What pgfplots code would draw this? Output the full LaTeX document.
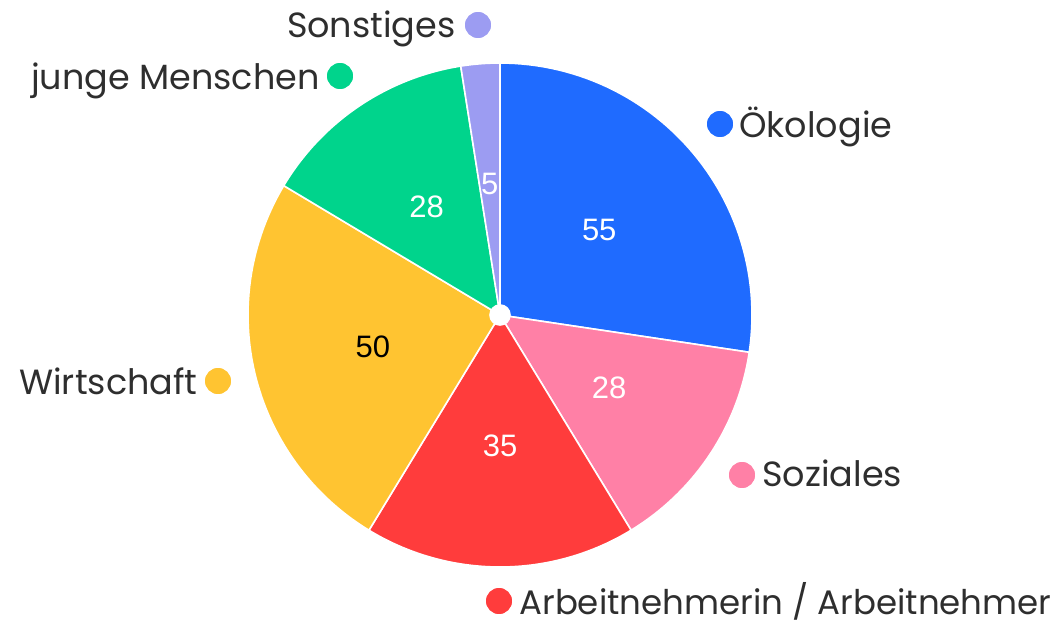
\documentclass[border=0pt]{standalone}
\usepackage{pgfplots}
\pgfplotsset{compat=1.18}
\usepackage{fontspec}
\setmainfont{Poppins}
\newfontfamily\numfont{Liberation Sans}
\definecolor{cOek}{HTML}{1F6BFF}
\definecolor{cSoz}{HTML}{FF80A6}
\definecolor{cArb}{HTML}{FF3C3C}
\definecolor{cWir}{HTML}{FFC431}
\definecolor{cJun}{HTML}{00D48C}
\definecolor{cSon}{HTML}{9C9CF2}
\definecolor{txt}{HTML}{2E2E2E}
% values (clockwise from top)
\def\vA{55}\def\vB{28}\def\vC{35}\def\vD{50}\def\vE{28}\def\vF{5}
\pgfmathsetmacro\tot{\vA+\vB+\vC+\vD+\vE+\vF}
\pgfmathsetmacro\aA{90}
\pgfmathsetmacro\aB{\aA-\vA/\tot*360}
\pgfmathsetmacro\aC{\aB-\vB/\tot*360}
\pgfmathsetmacro\aD{\aC-\vC/\tot*360}
\pgfmathsetmacro\aE{\aD-\vD/\tot*360}
\pgfmathsetmacro\aF{\aE-\vE/\tot*360}
\pgfmathsetmacro\aG{\aF-\vF/\tot*360}
\pgfmathsetmacro\mA{(\aA+\aB)/2}
\pgfmathsetmacro\mB{(\aB+\aC)/2}
\pgfmathsetmacro\mC{(\aC+\aD)/2}
\pgfmathsetmacro\mD{(\aD+\aE)/2}
\pgfmathsetmacro\mE{(\aE+\aF)/2}
\pgfmathsetmacro\mF{(\aF+\aG)/2}
\def\cx{500}\def\cy{308}\def\R{252}\def\Rl{131}
\tikzset{
  lab/.style={font=\fontsize{17.5}{19}\selectfont, text=txt, inner sep=0pt},
  num/.style={font=\numfont\fontsize{15.5}{18}\selectfont, text=white, inner sep=0pt},
}
\begin{document}
\begin{tikzpicture}
\begin{axis}[
  scale only axis, width=528.5pt, height=311.5pt,
  xmin=0, xmax=1057, ymin=0, ymax=623,
  hide axis, clip=false,
  every axis plot/.append style={draw=white, line width=0.8pt, samples=60},
]
\path (axis cs:0,0) rectangle (axis cs:1057,623);
\addplot[fill=cOek, domain=\aB:\aA] ({\cx+\R*cos(x)},{\cy+\R*sin(x)}) -- (axis cs:\cx,\cy) -- cycle;
\addplot[fill=cSoz, domain=\aC:\aB] ({\cx+\R*cos(x)},{\cy+\R*sin(x)}) -- (axis cs:\cx,\cy) -- cycle;
\addplot[fill=cArb, domain=\aD:\aC] ({\cx+\R*cos(x)},{\cy+\R*sin(x)}) -- (axis cs:\cx,\cy) -- cycle;
\addplot[fill=cWir, domain=\aE:\aD] ({\cx+\R*cos(x)},{\cy+\R*sin(x)}) -- (axis cs:\cx,\cy) -- cycle;
\addplot[fill=cJun, domain=\aF:\aE] ({\cx+\R*cos(x)},{\cy+\R*sin(x)}) -- (axis cs:\cx,\cy) -- cycle;
\addplot[fill=cSon, domain=\aG:\aF, samples=10] ({\cx+\R*cos(x)},{\cy+\R*sin(x)}) -- (axis cs:\cx,\cy) -- cycle;
\addplot[only marks, mark=*, mark size=5pt, mark options={draw=none,fill=white}] coordinates {(\cx,\cy)};
% values in slices
\node[num] at (axis cs:{\cx+\Rl*cos(\mA)},{\cy+\Rl*sin(\mA)}) {\vA};
\node[num] at (axis cs:{\cx+\Rl*cos(\mB)},{\cy+\Rl*sin(\mB)}) {\vB};
\node[num] at (axis cs:{\cx+\Rl*cos(\mC)},{\cy+\Rl*sin(\mC)}) {\vC};
\node[num, text=black] at (axis cs:{\cx+\Rl*cos(\mD)},{\cy+\Rl*sin(\mD)}) {\vD};
\node[num] at (axis cs:{\cx+\Rl*cos(\mE)},{\cy+\Rl*sin(\mE)}) {\vE};
\node[num] at (axis cs:{\cx+\Rl*cos(\mF)},{\cy+\Rl*sin(\mF)}) {\vF};
% label dots
\addplot[only marks, mark=*, mark size=7pt, mark options={draw=none, fill=cSon}] coordinates {(478,598)};
\addplot[only marks, mark=*, mark size=7pt, mark options={draw=none, fill=cJun}] coordinates {(340,547)};
\addplot[only marks, mark=*, mark size=7pt, mark options={draw=none, fill=cOek}] coordinates {(720,499)};
\addplot[only marks, mark=*, mark size=7pt, mark options={draw=none, fill=cWir}] coordinates {(218,242)};
\addplot[only marks, mark=*, mark size=7pt, mark options={draw=none, fill=cSoz}] coordinates {(742,148)};
\addplot[only marks, mark=*, mark size=7pt, mark options={draw=none, fill=cArb}] coordinates {(499,22)};
% label texts
\node[lab, anchor=base east] at (axis cs:456,586) {Sonstiges};
\node[lab, anchor=base east] at (axis cs:320,534) {junge Menschen};
\node[lab, anchor=base west] at (axis cs:739,486) {Ökologie};
\node[lab, anchor=base east] at (axis cs:198,229) {Wirtschaft};
\node[lab, anchor=base west] at (axis cs:762,137) {Soziales};
\node[lab, anchor=base west, font=\fontsize{17}{19}\selectfont] at (axis cs:519,9) {Arbeitnehmerin / Arbeitnehmer};
\end{axis}
\end{tikzpicture}
\end{document}
